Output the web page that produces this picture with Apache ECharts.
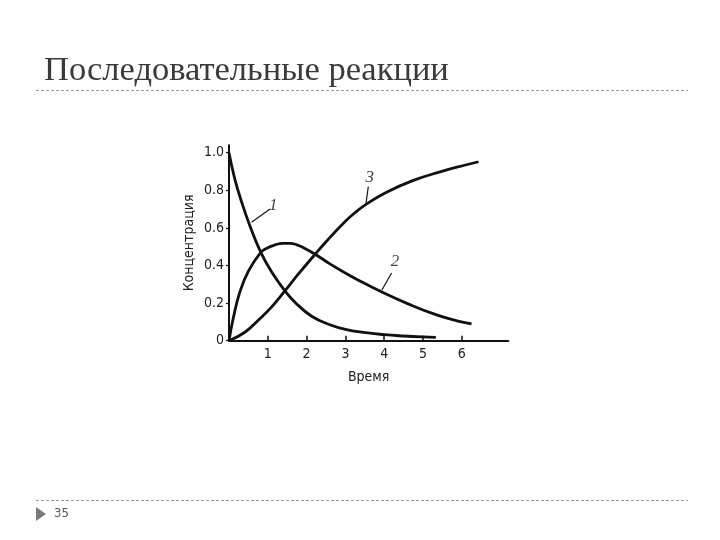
<!DOCTYPE html>
<html>
<head>
<meta charset="utf-8">
<script src="https://cdn.jsdelivr.net/npm/echarts@6/dist/echarts.min.js"></script>
<style>
html,body{margin:0;padding:0;background:#fff;}
#c{width:720px;height:540px;}
</style>
</head>
<body>
<div id="c"></div>
<script>
// Curve 1 (A)
const x1 = [0, 0.15, 0.33, 0.54, 0.82, 1.1, 1.44, 1.7, 2.13, 2.6, 3.0, 3.46, 4.0, 4.5, 5.0, 5.33];
const y1 = [1.0, 0.86, 0.735, 0.61, 0.47, 0.365, 0.265, 0.205, 0.13, 0.085, 0.06, 0.044, 0.032, 0.025, 0.02, 0.018];
// Curve 2 (B)
const x2 = [0, 0.11, 0.28, 0.5, 0.82, 1.0, 1.19, 1.38, 1.57, 1.75, 1.92, 2.22, 2.59, 3.0, 3.3, 3.98, 4.66, 5.35, 5.87, 6.25];
const y2 = [0, 0.12, 0.26, 0.37, 0.47, 0.495, 0.51, 0.518, 0.518, 0.51, 0.495, 0.46, 0.41, 0.36, 0.326, 0.255, 0.192, 0.137, 0.106, 0.09];
// Curve 3 (C)
const x3 = [0, 0.41, 0.76, 1.1, 1.44, 1.79, 2.22, 2.56, 3.0, 3.25, 3.55, 4.06, 4.75, 5.44, 6.04, 6.43];
const y3 = [0, 0.045, 0.11, 0.18, 0.265, 0.355, 0.46, 0.54, 0.635, 0.682, 0.728, 0.79, 0.853, 0.898, 0.932, 0.952];
// Axis ticks
const xTicks = [1, 2, 3, 4, 5, 6];
const yTicks = [0, 0.2, 0.4, 0.6, 0.8, 1.0];
const yTickLabels = ['0', '0.2', '0.4', '0.6', '0.8', '1.0'];
// Curve labels and leader lines (data coordinates)
const curveNames = ['1', '2', '3'];
const labelPos = [[1.14, 0.72], [4.28, 0.42], [3.63, 0.87]];
const leaderFrom = [[1.06, 0.70], [4.19, 0.36], [3.59, 0.82]];
const leaderTo = [[0.58, 0.63], [3.94, 0.27], [3.53, 0.73]];

const title = 'Последовательные реакции';
const pageNum = '35';

const pair = (xs, ys) => xs.map((x, i) => [x, ys[i]]);
const axisFont = "'DejaVu Sans Condensed', 'Liberation Sans Narrow', sans-serif";

const chart = echarts.init(document.getElementById('c'), null, {renderer: 'canvas'});

const curveSeries = [[x1, y1], [x2, y2], [x3, y3]].map(([xs, ys], i) => ({
  type: 'line',
  data: pair(xs, ys),
  smooth: 0.45,
  symbol: 'none',
  lineStyle: {color: '#111', width: 2.8},
  silent: true,
  z: 3,
  markLine: {
    silent: true,
    symbol: ['none', 'none'],
    label: {show: false},
    lineStyle: {color: '#111', width: 1.2, type: 'solid'},
    data: [[{coord: leaderFrom[i]}, {coord: leaderTo[i]}]]
  }
}));

chart.setOption({
  animation: false,
  backgroundColor: '#fff',
  title: {
    text: title,
    left: 44, top: 53, padding: 0,
    textStyle: {fontFamily: "'Liberation Serif', 'DejaVu Serif', serif", fontWeight: 'normal', fontSize: 34.5, color: '#3a3a3a'}
  },
  grid: {left: 229, right: 211.6, top: 145.2, bottom: 199.3, containLabel: false},
  xAxis: {
    type: 'value', min: 0, max: 7.2,
    name: 'Время', nameLocation: 'middle', nameGap: 30,
    nameTextStyle: {fontFamily: axisFont, fontSize: 14, color: '#222'},
    axisLine: {show: true, lineStyle: {color: '#111', width: 2}},
    axisTick: {show: true, inside: true, length: 5, customValues: xTicks, lineStyle: {color: '#111', width: 1.5}},
    axisLabel: {show: true, customValues: xTicks, margin: 7, fontFamily: axisFont, fontSize: 14, color: '#222'},
    splitLine: {show: false}
  },
  yAxis: {
    type: 'value', min: 0, max: 1.04,
    name: 'Концентрация', nameLocation: 'middle', nameGap: 33, nameRotate: 90,
    nameTextStyle: {fontFamily: axisFont, fontSize: 14, color: '#222'},
    axisLine: {show: true, lineStyle: {color: '#111', width: 2}},
    axisTick: {show: true, inside: false, length: 3, customValues: yTicks, lineStyle: {color: '#111', width: 1.2}},
    axisLabel: {
      show: true, customValues: yTicks, margin: 5, fontFamily: axisFont, fontSize: 14, color: '#222',
      formatter: v => { const i = yTicks.findIndex(t => Math.abs(t - v) < 1e-6); return i >= 0 ? yTickLabels[i] : ''; }
    },
    splitLine: {show: false}
  },
  graphic: [
    {type: 'line', shape: {x1: 36, y1: 90.5, x2: 688, y2: 90.5}, style: {stroke: '#9a9a9a', lineWidth: 1, lineDash: [3, 2]}},
    {type: 'line', shape: {x1: 36, y1: 500.5, x2: 688, y2: 500.5}, style: {stroke: '#9a9a9a', lineWidth: 1, lineDash: [3, 2]}},
    {type: 'polygon', shape: {points: [[36, 507], [46, 514], [36, 521]]}, style: {fill: '#7a7a7a'}},
    {type: 'text', x: 54, y: 507, style: {text: pageNum, font: "13px 'DejaVu Sans Condensed', sans-serif", fill: '#555'}}
  ],
  series: [
    ...curveSeries,
    {
      type: 'scatter',
      data: labelPos.map((p, i) => ({value: p, name: curveNames[i]})),
      symbolSize: 1,
      itemStyle: {color: 'rgba(0,0,0,0)'},
      silent: true,
      label: {
        show: true, position: 'inside', formatter: p => p.name,
        fontFamily: "'Liberation Serif', serif", fontStyle: 'italic', fontSize: 17, color: '#111'
      }
    }
  ]
});
</script>
</body>
</html>
